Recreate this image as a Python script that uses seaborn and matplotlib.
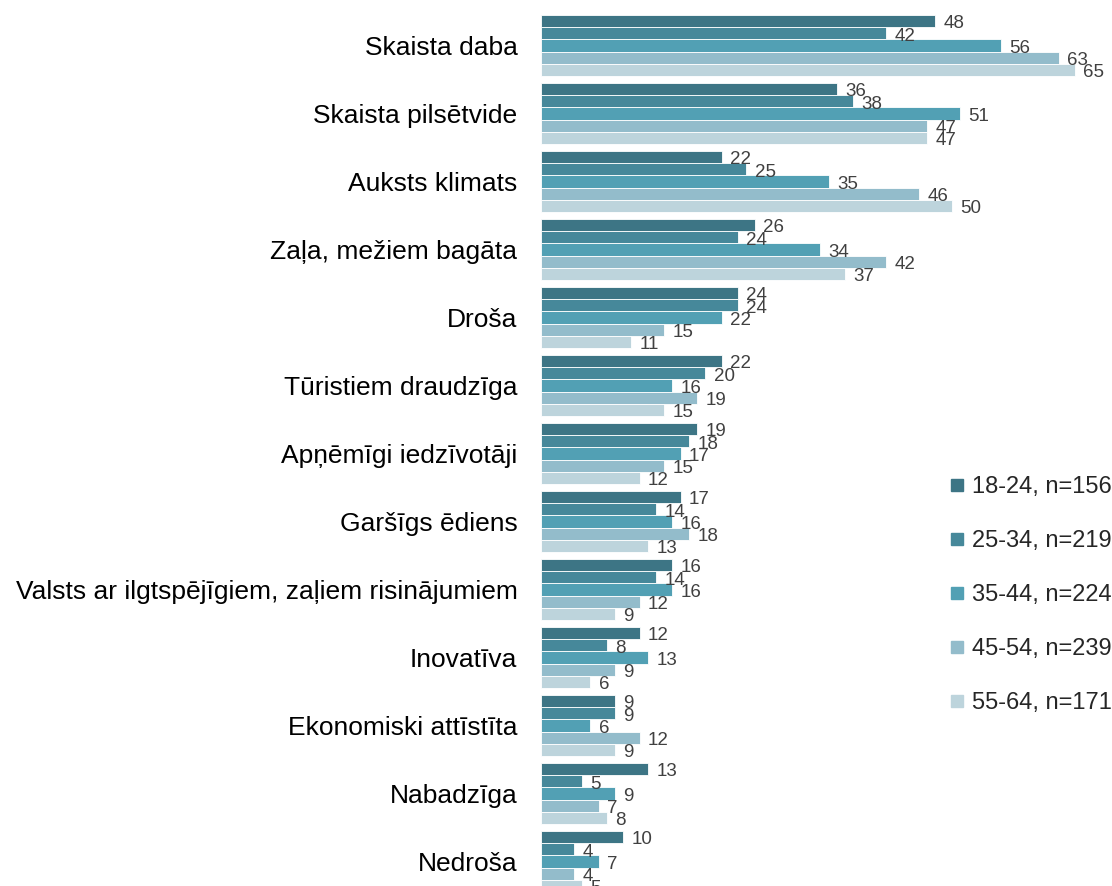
import pandas as pd
import matplotlib.pyplot as plt
import seaborn as sns
from matplotlib.lines import Line2D

# Dati
categories = [
    "Skaista daba",
    "Skaista pilsētvide",
    "Auksts klimats",
    "Zaļa, mežiem bagāta",
    "Droša",
    "Tūristiem draudzīga",
    "Apņēmīgi iedzīvotāji",
    "Garšīgs ēdiens",
    "Valsts ar ilgtspējīgiem, zaļiem risinājumiem",
    "Inovatīva",
    "Ekonomiski attīstīta",
    "Nabadzīga",
    "Nedroša",
]
groups = ["18-24, n=156", "25-34, n=219", "35-44, n=224", "45-54, n=239", "55-64, n=171"]
v_18_24 = [48, 36, 22, 26, 24, 22, 19, 17, 16, 12, 9, 13, 10]
v_25_34 = [42, 38, 25, 24, 24, 20, 18, 14, 14, 8, 9, 5, 4]
v_35_44 = [56, 51, 35, 34, 22, 16, 17, 16, 16, 13, 6, 9, 7]
v_45_54 = [63, 47, 46, 42, 15, 19, 15, 18, 12, 9, 12, 7, 4]
v_55_64 = [65, 47, 50, 37, 11, 15, 12, 13, 9, 6, 9, 8, 5]
colors = ["#3d7585", "#46889a", "#52a0b4", "#93bccb", "#bdd4dc"]

series = [v_18_24, v_25_34, v_35_44, v_45_54, v_55_64]
rows = []
for g, vals in zip(groups, series):
    for c, v in zip(categories, vals):
        rows.append({"category": c, "group": g, "value": v})
df = pd.DataFrame(rows)

sns.set_style("white")
plt.rcParams['font.family'] = ['Liberation Sans', 'DejaVu Sans']

fig = plt.figure(figsize=(11.12, 8.86), dpi=100)
# Ass novietojums pikseļos
left = 541 / 1112
width = 540 / 1112
top_px = 11.5
bottom_px = 895.5
ax = fig.add_axes([left, 1 - bottom_px / 886, width, (bottom_px - top_px) / 886])

sns.barplot(data=df, y="category", x="value", hue="group", orient="h",
            palette=colors, saturation=1, width=0.9, edgecolor="white",
            linewidth=0.6, legend=False, ax=ax)

ax.set_xlim(0, 540 / 8.215)
ax.set_ylim(len(categories) - 0.5, -0.5)

# Vērtību etiķetes
for cont in ax.containers:
    for bar in cont:
        w = bar.get_width()
        y = bar.get_y() + bar.get_height() / 2
        ax.annotate(f"{w:.0f}", xy=(w, y), xytext=(6, -2), textcoords="offset points",
                    ha="left", va="center", fontsize=13.5, color="#404040")

ax.set_xlabel("")
ax.set_ylabel("")
ax.set_xticks([])
ax.tick_params(axis="y", length=0, pad=17, labelsize=19, labelcolor="black")
sns.despine(ax=ax, left=True, bottom=True)

# Leģenda
handles = [Line2D([0], [0], marker="s", linestyle="none", markersize=9,
                  markerfacecolor=c, markeredgecolor=c) for c in colors]
fig.legend(handles, groups, loc="center left", bbox_to_anchor=(939 / 1112, 1 - 595 / 886),
           frameon=False, fontsize=17, labelspacing=1.36, handlelength=0.7,
           handletextpad=0.3, borderaxespad=0)

fig.savefig("out.png", dpi=100)
